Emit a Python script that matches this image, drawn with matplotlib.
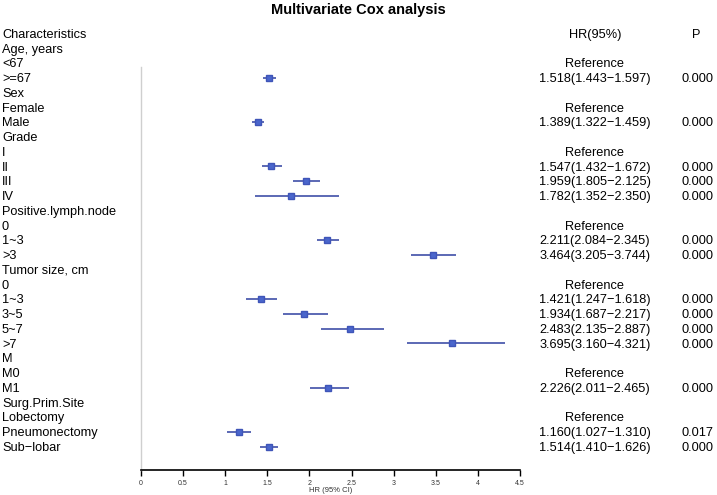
import matplotlib
matplotlib.use("Agg")
import matplotlib.pyplot as plt
import matplotlib.transforms as mtransforms
import numpy as np

plt.rcParams['font.family'] = ['Liberation Sans', 'DejaVu Sans']

# rows of the table, top to bottom
labels = ["Characteristics", "Age, years", "<67", ">=67", "Sex", "Female", "Male",
          "Grade", "I", "II", "III", "IV", "Positive.lymph.node", "0", "1~3", ">3",
          "Tumor size, cm", "0", "1~3", "3~5", "5~7", ">7", "M", "M0", "M1",
          "Surg.Prim.Site", "Lobectomy", "Pneumonectomy", "Sub\u2212lobar"]

# hazard ratios (None = no estimate on that row)
hr = [None, None, None, 1.518, None, None, 1.389,
      None, None, 1.547, 1.959, 1.782, None, None, 2.211, 3.464,
      None, None, 1.421, 1.934, 2.483, 3.695, None, None, 2.226,
      None, None, 1.160, 1.514]
lo = [None, None, None, 1.443, None, None, 1.322,
      None, None, 1.432, 1.805, 1.352, None, None, 2.084, 3.205,
      None, None, 1.247, 1.687, 2.135, 3.160, None, None, 2.011,
      None, None, 1.027, 1.410]
hi = [None, None, None, 1.597, None, None, 1.459,
      None, None, 1.672, 2.125, 2.350, None, None, 2.345, 3.744,
      None, None, 1.618, 2.217, 2.887, 4.321, None, None, 2.465,
      None, None, 1.310, 1.626]
ref_rows = [2, 5, 8, 13, 17, 23, 26]
pvals = {3: "0.000", 6: "0.000", 9: "0.000", 10: "0.000", 11: "0.000",
         14: "0.000", 15: "0.000", 18: "0.000", 19: "0.000", 20: "0.000",
         21: "0.000", 24: "0.000", 27: "0.017", 28: "0.000"}

W, H = 717, 495
fig = plt.figure(figsize=(W / 100, H / 100), dpi=100)
ax = fig.add_axes([141 / W, 25 / H, (520 - 141) / W, (470 - 20) / H])

row0_px, step_px = 33.5, 14.75
ax.set_ylim((470 - row0_px) / step_px, (20 - row0_px) / step_px)
ax.set_xlim(0, 4.5)

for i in range(len(labels)):
    if hr[i] is None:
        continue
    ax.plot([lo[i], hi[i]], [i, i], color="#3f4fa8", lw=1.2, solid_capstyle="butt")
    ax.plot(hr[i], i, marker="s", ms=3.8, color="#4a66cc", mec="#3f55b8")

# grey vertical line
ax.plot([0, 0], [2.3, ax.get_ylim()[0]], color="#cfcfcf", lw=1, clip_on=False)

for s in ["top", "right", "left"]:
    ax.spines[s].set_visible(False)
ax.spines["bottom"].set_linewidth(1.2)
ax.set_yticks([])
ax.set_xticks(np.arange(0, 4.51, 0.5))
ax.set_xticklabels(["0", "0.5", "1", "1.5", "2", "2.5", "3", "3.5", "4", "4.5"])
ax.tick_params(axis="x", labelsize=5, length=4, width=1, pad=3, labelcolor="#333333")
ax.set_xlabel("HR (95% CI)", fontsize=5.5, labelpad=0, color="#333333")

tr = mtransforms.blended_transform_factory(fig.transFigure, ax.transData)
fs = 9.2
va = "baseline"
off = 0.3  # baseline sits a bit below the row centre
for i, lab in enumerate(labels):
    fig.text(2 / W, i + off, lab, transform=tr, fontsize=fs, va=va, ha="left")
    if i in ref_rows:
        fig.text(595 / W, i + off, "Reference", transform=tr, fontsize=fs, va=va, ha="center")
    elif hr[i] is not None:
        s = "%.3f(%.3f\u2212%.3f)" % (hr[i], lo[i], hi[i])
        fig.text(595 / W, i + off, s, transform=tr, fontsize=fs, va=va, ha="center")
        fig.text(697 / W, i + off, pvals[i], transform=tr, fontsize=fs, va=va, ha="center")

fig.text(595 / W, off, "HR(95%)", transform=tr, fontsize=fs, va=va, ha="center")
fig.text(696 / W, off, "P", transform=tr, fontsize=fs, va=va, ha="center")

fig.text(358 / W, 1 - 10 / H, "Multivariate Cox analysis", fontsize=10.5,
         fontweight="bold", ha="center", va="center")

fig.savefig("out.png", dpi=100)
